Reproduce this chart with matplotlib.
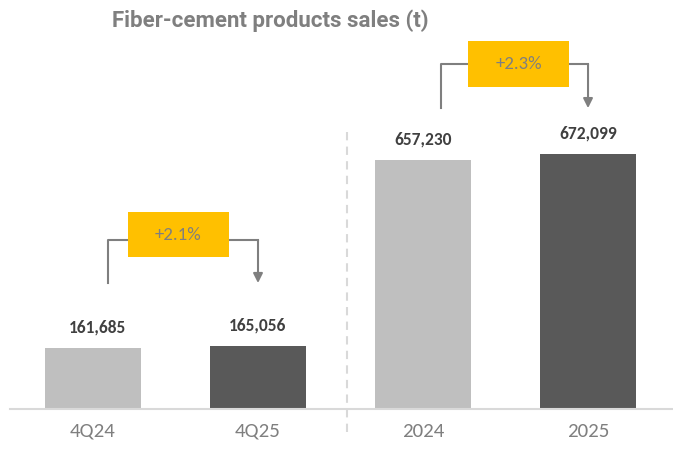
import matplotlib.pyplot as plt
from matplotlib.patches import Rectangle

categories = ["4Q24", "4Q25", "2024", "2025"]
sales = [161685, 165056, 657230, 672099]
value_labels = ["161,685", "165,056", "657,230", "672,099"]
growth_labels = ["+2.1%", "+2.3%"]

light = "#BFBFBF"
dark = "#595959"
bar_colors = [light, dark, light, dark]

plt.rcParams['font.family'] = ['Carlito', 'Lato', 'DejaVu Sans']

fig = plt.figure(figsize=(6.73, 4.49), dpi=100)
ax = fig.add_axes([10/673, 40/449, 663/673, 409/449])
x = list(range(len(categories)))
ax.bar(x, sales, width=0.58, color=bar_colors, zorder=2)
ax.set_xlim(-0.503, 3.515)
ax.set_ylim(0, 1.08e6)

for s in ["top", "right", "left"]:
    ax.spines[s].set_visible(False)
ax.spines["bottom"].set_color("#D9D9D9")
ax.spines["bottom"].set_linewidth(1.5)
ax.set_yticks([])
ax.set_xticks(x)
ax.set_xticklabels(categories, fontsize=15, color="#7F7F7F")
ax.tick_params(axis="x", length=0, pad=10)

# value labels
for xi, v, lab in zip(x, sales, value_labels):
    ax.annotate(lab, (xi, v), xytext=(3 if xi == 0 else 0, 9), textcoords="offset points",
                ha="center", va="bottom", fontsize=12.5, fontweight="bold", color="#404040")

# separator between quarter and year
ax.plot([1.54, 1.54], [-60000, 740000], ls=(0, (4, 3)), color="#D9D9D9", lw=1.5, clip_on=False)

# growth brackets: (left x, right x, start y, bracket y, box centre x, box centre y)
brackets = [(0.09, 1.0, 332600, 446000, 0.518, 460600),
            (2.11, 3.0, 794500, 910600, 2.579, 910600)]
box_w = 0.612
box_h = 120000
for (xl, xr, y0, yb, xc, yc), g in zip(brackets, growth_labels):
    ax.plot([xl, xl, xc - box_w/2], [y0, yb, yb], color="#7F7F7F", lw=1.5, zorder=3)
    ax.annotate("", xy=(xr, y0), xytext=(xr, yb),
                arrowprops=dict(arrowstyle="-|>", color="#7F7F7F", lw=1.5, mutation_scale=14,
                                shrinkA=0, shrinkB=0), zorder=3)
    ax.plot([xc + box_w/2, xr], [yb, yb], color="#7F7F7F", lw=1.5, zorder=3)
    ax.add_patch(Rectangle((xc - box_w/2, yc - box_h/2), box_w, box_h,
                           facecolor="#FFC000", edgecolor="none", zorder=4))
    ax.text(xc, yc, g, ha="center", va="center", fontsize=13.5, color="#7F7F7F", zorder=5)

fig.text(270/673, 1 - 21/449, "Fiber-cement products sales (t)", ha="center", va="center",
         fontsize=16, fontweight="bold", color="#7F7F7F",
         family=["Liberation Sans Narrow", "Roboto", "DejaVu Sans"])

fig.savefig("out.png", dpi=100)
